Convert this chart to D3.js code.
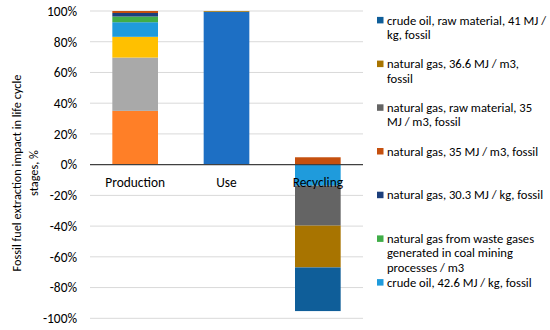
<!DOCTYPE html>
<html><head><meta charset="utf-8">
<script src="https://cdn.jsdelivr.net/npm/d3@7"></script>
<style>
body{margin:0;background:#fff;}
text{font-family:Carlito, Calibri, Lato, sans-serif;fill:#000;}
</style></head>
<body><svg id="c" width="550" height="330"></svg>
<script>
const categories = ["Production", "Use", "Recycling"];
const yTicks = [-100, -80, -60, -40, -20, 0, 20, 40, 60, 80, 100];

// series values in % (Production, Use, Recycling), stacking order bottom-first
const seriesOrange     = [35, 0, 0];
const seriesGray       = [34.7, 0, 0];
const seriesYellow     = [13.5, 0, 0];
const seriesUseBlue    = [0, 99.5, 0];
const crudeOil426      = [9.5, 0, -13.7];
const wasteGas         = [3.7, 0, 0];
const natGas303        = [2.3, 0, 0];
const natGas35         = [1.3, 0, 4.8];
const natGasRaw35      = [0, 0, -26];
const natGas366        = [0, 0.5, -27.2];
const crudeOilRaw41    = [0, 0, -28.4];

const seriesKeys   = ["orange","gray","yellow","useBlue","co426","waste","ng303","ng35","ngraw35","ng366","co41"];
const seriesValues = [seriesOrange, seriesGray, seriesYellow, seriesUseBlue, crudeOil426, wasteGas, natGas303, natGas35, natGasRaw35, natGas366, crudeOilRaw41];
const seriesColors = ["#FF7F27","#A9A9A9","#FFC000","#1D6FC4","#1F9BDC","#40AD48","#1C3F7C","#C5500E","#646464","#A87400","#0F5E99"];

// visible legend (top to bottom) with its wrapped lines
const legendKeys  = ["co41","ng366","ngraw35","ng35","ng303","waste","co426"];
const legendLines = [
  ["crude oil, raw material, 41 MJ /", "kg, fossil"],
  ["natural gas, 36.6 MJ / m3,", "fossil"],
  ["natural gas, raw material, 35", "MJ / m3, fossil"],
  ["natural gas, 35 MJ / m3, fossil"],
  ["natural gas, 30.3 MJ / kg, fossil"],
  ["natural gas from waste gases", "generated in coal mining", "processes / m3"],
  ["crude oil, 42.6 MJ / kg, fossil"]
];
const yTitle = ["Fossil fuel extraction impact in life cycle", "stages, %"];

const svg = d3.select("#c");
const x = d3.scaleBand().domain(categories).range([89.5, 363.5]).paddingInner(0.5).paddingOuter(0.25);
const y = d3.scaleLinear().domain([-100, 100]).range([318.3, 11]);

// grid
svg.append("g").selectAll("line").data(yTicks.filter(d => d !== 0)).join("line")
  .attr("x1", 90).attr("x2", 363).attr("y1", d => y(d)).attr("y2", d => y(d))
  .attr("stroke", "#D9D9D9").attr("stroke-width", 1);

// y labels
const yAxis = d3.axisLeft(y).tickValues(yTicks).tickFormat(d => d + "%").tickSize(0).tickPadding(0);
const ga = svg.append("g").attr("transform", "translate(77,0)").call(yAxis);
ga.select(".domain").remove();
ga.selectAll("text").style("font-family", "Carlito, Calibri, Lato, sans-serif").style("font-size", "13.4px").attr("fill", "#000");

// data table
const table = categories.map((c, i) => {
  const o = {cat: c};
  seriesKeys.forEach((k, j) => o[k] = seriesValues[j][i]);
  return o;
});
const stacked = d3.stack().keys(seriesKeys).offset(d3.stackOffsetDiverging)(table);
const color = d3.scaleOrdinal().domain(seriesKeys).range(seriesColors);

svg.append("g").selectAll("g").data(stacked).join("g")
  .attr("fill", d => color(d.key))
  .selectAll("rect").data(d => d).join("rect")
  .attr("x", d => x(d.data.cat)).attr("width", x.bandwidth())
  .attr("y", d => y(Math.max(d[0], d[1])))
  .attr("height", d => Math.abs(y(d[0]) - y(d[1])));

// zero line
svg.append("line").attr("x1", 90).attr("x2", 363).attr("y1", y(0)).attr("y2", y(0))
  .attr("stroke", "#404040").attr("stroke-width", 1.2);

// category labels
svg.append("g").selectAll("text").data(categories).join("text")
  .attr("x", d => x(d) + x.bandwidth() / 2).attr("y", 187)
  .attr("text-anchor", "middle").style("font-size", "13.4px").text(d => d);

// y title
const yt = svg.append("text").attr("transform", "translate(0,173) rotate(-90)").attr("text-anchor", "middle").style("font-size", "12.3px");
yt.selectAll("tspan").data(yTitle).join("tspan").attr("x", 0).attr("y", (d, i) => 21 + i * 17).text(d => d);

// legend
const lg = svg.append("g").selectAll("g").data(legendKeys).join("g")
  .attr("transform", (d, i) => `translate(377,${20.7 + i * 43.7})`);
lg.append("rect").attr("x", 0).attr("y", -3.8).attr("width", 6.5).attr("height", 6.5).attr("fill", d => color(d));
lg.append("text").style("font-size", "12.6px").each(function(d, i) {
  d3.select(this).selectAll("tspan").data(legendLines[i]).join("tspan")
    .attr("x", 10).attr("y", (t, j) => 3.8 + j * 14.4).text(t => t);
});
</script></body></html>
